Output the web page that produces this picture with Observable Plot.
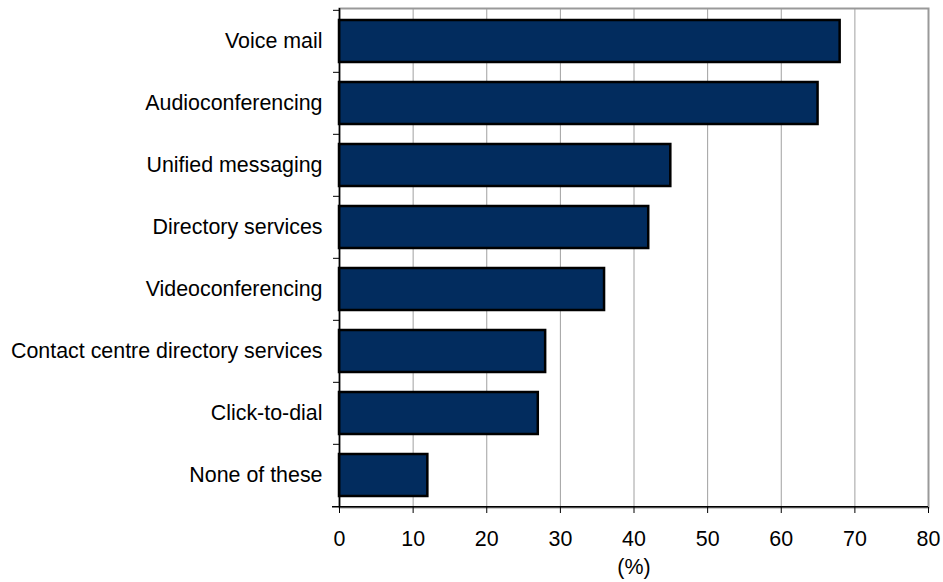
<!DOCTYPE html>
<html><head><meta charset="utf-8">
<script src="https://cdn.jsdelivr.net/npm/d3@7"></script>
<script src="https://cdn.jsdelivr.net/npm/@observablehq/plot@0.6"></script>
<style>body{margin:0;background:#fff}</style>
</head><body><div id="chart"></div>
<script>
const categories = ["Voice mail", "Audioconferencing", "Unified messaging", "Directory services", "Videoconferencing", "Contact centre directory services", "Click-to-dial", "None of these"];
const values = [68, 65, 45, 42, 36, 28, 27, 12];
const xTicks = [0, 10, 20, 30, 40, 50, 60, 70, 80];
const xLabel = "(%)";

const data = categories.map((c, i) => ({category: c, value: values[i]}));
const W = 943, H = 582, mt = 8, mb = 75, ml = 339, mr = 15;
const step = (H - mt - mb) / categories.length;

const chart = Plot.plot({
  width: W, height: H, marginTop: mt, marginBottom: mb, marginLeft: ml, marginRight: mr,
  style: {fontFamily: "'Liberation Sans', Arial, sans-serif", fontSize: "21.4px", color: "#000", background: "#fff"},
  x: {domain: [0, 80], ticks: xTicks},
  y: {domain: categories, paddingInner: 0.33, paddingOuter: 0.165},
  marks: [
    Plot.gridX(xTicks.slice(1, -1), {stroke: "#a0a0a0", strokeOpacity: 1, strokeWidth: 1}),
    Plot.frame({stroke: "#999", strokeWidth: 2}),
    Plot.barX(data, {x: "value", y: "category", fill: "#022c5e", stroke: "#000", strokeWidth: 2.5}),
    Plot.ruleX([0], {stroke: "#000", strokeWidth: 1.5}),
    Plot.ruleY([categories[categories.length - 1]], {dy: step / 2, stroke: "#000", strokeWidth: 1.5, insetLeft: -7}),
    Plot.axisX(xTicks, {tickSize: 6, tickPadding: 17, label: null, stroke: "#000", fill: "#000"}),
    Plot.axisY({tickSize: 0, tickPadding: 17, label: null, fill: "#000"}),
    Plot.axisY({tickSize: 6, fill: "none", stroke: "#000", label: null, dy: -step / 2}),
    Plot.text([xLabel], {frameAnchor: "bottom", dy: 66, fill: "#000"})
  ]
});
document.getElementById("chart").append(chart);
</script>
</body></html>
